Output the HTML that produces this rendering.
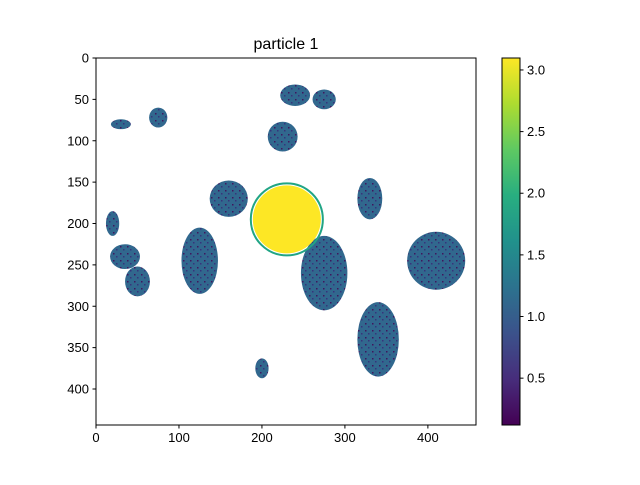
<!DOCTYPE html>
<html><head><meta charset="utf-8"><style>
body{margin:0;background:#fff}
svg text{font-family:"Liberation Sans","DejaVu Sans",sans-serif;font-size:13px;fill:#000}
</style></head><body>
<svg width="640" height="480" xmlns="http://www.w3.org/2000/svg">
<defs>
<pattern id="spk" width="7" height="7" patternUnits="userSpaceOnUse">
<rect width="7" height="7" fill="#31688e"/>
<rect x="1" y="1" width="1.5" height="1.5" fill="#440154" opacity="0.8"/>
<rect x="4" y="4" width="1.5" height="1.5" fill="#3b0f70" opacity="0.6"/>
</pattern>
<linearGradient id="vir" x1="0" y1="1" x2="0" y2="0">
<stop offset="0" stop-color="#440154"/><stop offset="0.125" stop-color="#472d7b"/>
<stop offset="0.25" stop-color="#3b528b"/><stop offset="0.375" stop-color="#2c728e"/>
<stop offset="0.5" stop-color="#21918c"/><stop offset="0.625" stop-color="#28ae80"/>
<stop offset="0.75" stop-color="#5ec962"/><stop offset="0.875" stop-color="#addc30"/>
<stop offset="1" stop-color="#fde725"/>
</linearGradient>
</defs>
<text x="286" y="49" text-anchor="middle" style="font-size:16px">particle 1</text>
<g id="plot"></g>
<rect x="96" y="58" width="380" height="367" fill="none" stroke="#000" stroke-width="1"/>
<g id="axes"></g>
<rect x="502" y="58" width="18" height="367" fill="url(#vir)" stroke="#000" stroke-width="1"/>
<g id="cbar"></g>
</svg>
<script>
const blobX=[20,35,50,75,30,125,160,275,225,240,275,330,410,340,200];
const blobY=[200,240,270,72,80,245,170,260,95,45,50,170,245,340,375];
const blobRX=[8,18,15,11,12,22,23,28,18,18,14,15,35,25,8];
const blobRY=[15,15,18,12,6,40,22,45,18,13,12,25,35,45,12];
const bigCX=230, bigCY=195, bigR=41;
const xTicks=[0,100,200,300,400];
const yTicks=[0,50,100,150,200,250,300,350,400];
const cbTicks=[0.5,1.0,1.5,2.0,2.5,3.0];
const cbMin=0.12, cbMax=3.097;
const NS='http://www.w3.org/2000/svg';
const sx=v=>96+v*0.8297, sy=v=>58+v*0.8275;
const cy=v=>425-(v-cbMin)/(cbMax-cbMin)*367;
function mk(t,a,p){const e=document.createElementNS(NS,t);for(const k in a)e.setAttribute(k,a[k]);p.appendChild(e);return e;}
const plot=document.getElementById('plot');
for(let i=0;i<blobX.length;i++){
 const e=mk('ellipse',{cx:sx(blobX[i]),cy:sy(blobY[i]),rx:blobRX[i]*0.8297,ry:blobRY[i]*0.8275,fill:'url(#spk)'},plot);
 
 
}
const g=mk('circle',{cx:sx(bigCX),cy:sy(bigCY),r:bigR*0.83+2,fill:'none',stroke:'#21a585','stroke-width':2},plot);


const b=mk('circle',{cx:sx(bigCX),cy:sy(bigCY),r:bigR*0.83,fill:'#fde725'},plot);


const ax=document.getElementById('axes');
xTicks.forEach(v=>{
 mk('line',{x1:sx(v),x2:sx(v),y1:425,y2:428.5,stroke:'#000'},ax);
 const t=mk('text',{x:sx(v),y:442,'text-anchor':'middle'},ax);t.textContent=v;
 
 
});
yTicks.forEach(v=>{
 mk('line',{x1:92.5,x2:96,y1:sy(v),y2:sy(v),stroke:'#000'},ax);
 const t=mk('text',{x:89,y:sy(v)+4.5,'text-anchor':'end'},ax);t.textContent=v;
 
 
});
const cb=document.getElementById('cbar');
cbTicks.forEach(v=>{
 mk('line',{x1:520,x2:523.5,y1:cy(v),y2:cy(v),stroke:'#000'},cb);
 const t=mk('text',{x:527,y:cy(v)+4.5},cb);t.textContent=v.toFixed(1);
 
 
});
</script>
</body></html>
